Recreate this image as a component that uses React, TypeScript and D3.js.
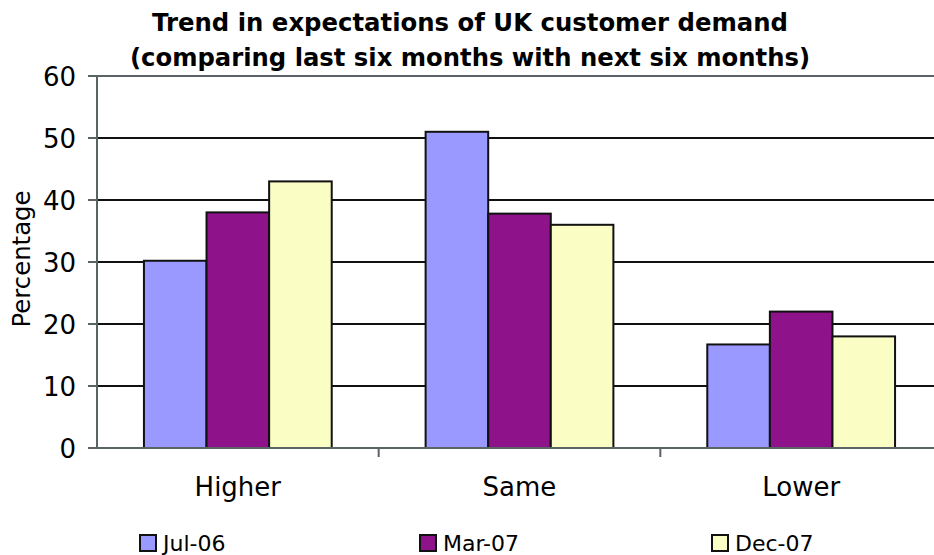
import React from "react";
import * as d3 from "d3";

const categories = ["Higher", "Same", "Lower"];
const seriesNames = ["Jul-06", "Mar-07", "Dec-07"];
const jul06 = [30.2, 51, 16.7];
const mar07 = [38, 37.8, 22];
const dec07 = [43, 36, 18];
const yTicks = [0, 10, 20, 30, 40, 50, 60];
const colors = ["#9999FF", "#8E128A", "#FAFDC4"];

const W = 934;
const H = 555;
const FONT = "'DejaVu Sans', sans-serif";

export default function App() {
  const left = 97;
  const right = 942;
  const top = 76;
  const bottom = 448;
  const x = d3.scaleBand().domain(categories).range([left, right]).paddingInner(0).paddingOuter(0);
  const barW = x.bandwidth() / 4.5;
  const y = d3.scaleLinear().domain([0, 60]).range([bottom, top]);
  const series = [jul06, mar07, dec07];
  const legendX = [140, 420, 712];
  return (
    <svg width={W} height={H} style={{ position: "absolute", left: 0, top: 0, background: "#fff" }}>
      <text x={470} y={31} textAnchor="middle" fontFamily={FONT} fontWeight="bold" fontSize={25}
        textLength={636} lengthAdjust="spacingAndGlyphs">
        Trend in expectations of UK customer demand
      </text>
      <text x={470} y={66} textAnchor="middle" fontFamily={FONT} fontWeight="bold" fontSize={25}
        textLength={680} lengthAdjust="spacingAndGlyphs">
        (comparing last six months with next six months)
      </text>
      {yTicks.filter((t) => t > 0 && t < 60).map((t) => (
        <line key={t} x1={left} x2={W} y1={y(t)} y2={y(t)} stroke="#111" strokeWidth={2} />
      ))}
      <line x1={left} x2={W} y1={top} y2={top} stroke="#5a6464" strokeWidth={2} />
      {series.map((vals, si) =>
        categories.map((c, ci) => {
          const x0 = (x(c) as number) + barW * 0.75 + si * barW;
          return (
            <rect key={si + "-" + ci} x={x0} y={y(vals[ci])} width={barW} height={bottom - y(vals[ci])}
              fill={colors[si]} stroke="#111" strokeWidth={2} />
          );
        })
      )}
      <line x1={left} x2={left} y1={top} y2={bottom} stroke="#5a6464" strokeWidth={2} />
      <line x1={left} x2={W} y1={bottom} y2={bottom} stroke="#5a6464" strokeWidth={2} />
      {yTicks.map((t) => (
        <g key={t}>
          <line x1={left - 9} x2={left} y1={y(t)} y2={y(t)} stroke="#5a6464" strokeWidth={2} />
          <text x={76} y={y(t) + 9.5} textAnchor="end" fontFamily={FONT} fontSize={26}>{t}</text>
        </g>
      ))}
      {categories.map((c, i) => (
        <g key={c}>
          {i > 0 && <line x1={x(c) as number} x2={x(c) as number} y1={bottom} y2={bottom + 9} stroke="#5a6464" strokeWidth={2} />}
          <text x={(x(c) as number) + x.bandwidth() / 2} y={496} textAnchor="middle" fontFamily={FONT} fontSize={26}>{c}</text>
        </g>
      ))}
      <text transform={`translate(30,259) rotate(-90)`} textAnchor="middle" fontFamily={FONT} fontSize={24}
        textLength={137} lengthAdjust="spacingAndGlyphs">Percentage</text>
      {seriesNames.map((s, i) => {
        const lx = legendX[i];
        return (
          <g key={s}>
            <rect x={lx} y={535} width={16} height={16} fill={colors[i]} stroke="#111" strokeWidth={2} />
            <text x={lx + 23} y={551} fontFamily={FONT} fontSize={22}>{s}</text>
          </g>
        );
      })}
    </svg>
  );
}
